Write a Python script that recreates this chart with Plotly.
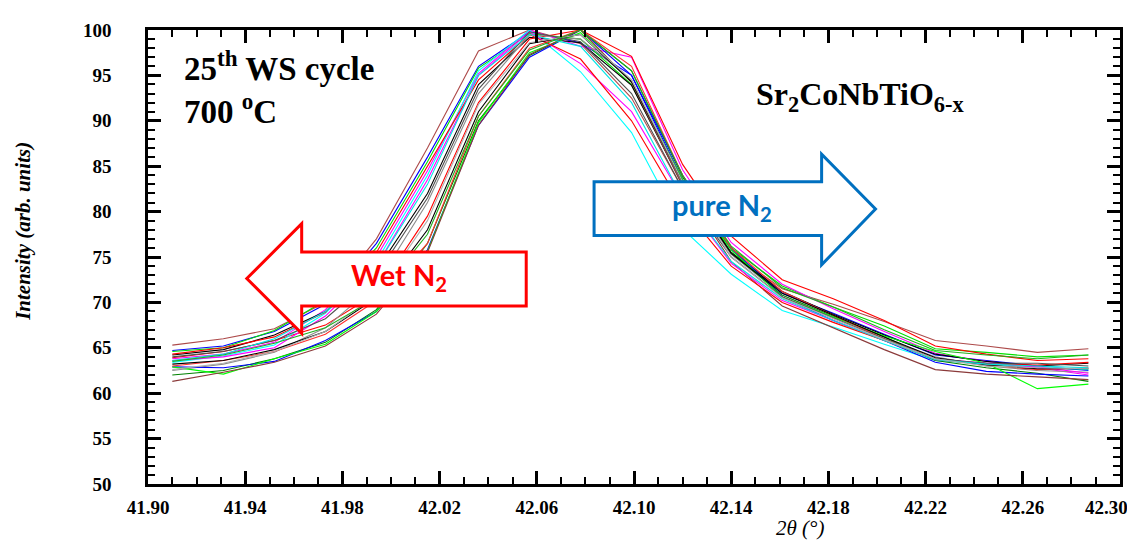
import plotly.graph_objects as go

# ---- data ----
two_theta = [41.910, 41.931, 41.952, 41.973, 41.994, 42.015, 42.036, 42.057, 42.078, 42.099,
             42.120, 42.140, 42.161, 42.182, 42.203, 42.224, 42.245, 42.266, 42.287]

curve_brown_hi = [65.3, 66.0, 67.1, 70.0, 77.0, 87.0, 97.7, 100.0, 98.5, 92.5, 82.5, 75.5, 71.5, 69.8, 67.9, 65.8, 65.2, 64.5, 64.9]
curve_blue_1 = [64.7, 65.2, 66.8, 69.8, 76.5, 86.0, 96.0, 99.8, 98.6, 95.0, 83.5, 75.8, 71.0, 68.8, 66.5, 64.2, 63.6, 63.0, 62.5]
curve_green_1 = [64.6, 65.0, 66.9, 70.2, 76.0, 85.5, 95.8, 99.6, 99.0, 94.0, 83.0, 76.0, 71.8, 69.5, 67.4, 64.9, 64.5, 64.0, 64.2]
curve_magenta_1 = [63.8, 64.3, 65.6, 69.2, 75.0, 84.5, 95.2, 100.0, 98.2, 97.0, 84.6, 76.6, 72.0, 69.3, 66.8, 64.4, 63.5, 62.8, 62.0]
curve_black_1 = [64.2, 64.8, 66.4, 69.0, 73.5, 82.0, 94.0, 99.2, 98.6, 93.9, 83.0, 75.5, 71.2, 68.7, 66.4, 64.3, 63.5, 63.0, 63.3]
curve_red_1 = [63.9, 64.6, 65.8, 67.5, 71.0, 79.5, 92.0, 99.0, 100.0, 97.1, 85.2, 77.3, 72.5, 70.4, 68.0, 65.2, 64.3, 63.6, 63.8]
curve_cyan_1 = [63.4, 64.1, 65.3, 68.8, 74.5, 84.0, 95.5, 100.0, 95.4, 88.7, 78.1, 73.1, 69.1, 67.3, 65.4, 63.6, 63.2, 62.9, 62.6]
curve_gray_1 = [62.5, 63.2, 64.5, 67.2, 72.0, 81.0, 93.0, 99.5, 99.0, 94.5, 83.0, 75.3, 70.8, 68.3, 66.0, 64.0, 63.0, 62.5, 62.3]
curve_dkgreen = [62.0, 62.5, 63.8, 65.6, 69.2, 76.5, 90.0, 97.2, 100.0, 95.5, 83.8, 75.5, 70.8, 68.5, 66.2, 63.6, 62.8, 62.2, 61.3]
curve_blue_2 = [62.9, 62.8, 63.5, 65.8, 69.0, 75.8, 89.5, 97.0, 100.0, 95.0, 84.0, 76.0, 70.6, 68.0, 65.8, 63.4, 62.4, 62.1, 61.9]
curve_green_2 = [62.9, 62.1, 63.8, 65.4, 69.0, 75.6, 89.8, 97.5, 99.7, 94.3, 83.5, 75.8, 70.6, 68.4, 66.3, 64.6, 63.3, 60.5, 61.0]
curve_brown_lo = [61.3, 62.3, 63.4, 65.2, 68.7, 75.5, 89.5, 97.3, 100.0, 94.2, 82.8, 74.5, 69.6, 67.2, 64.8, 62.6, 62.1, 61.8, 61.5]
curve_magenta_2 = [63.6, 64.0, 65.0, 68.5, 74.0, 83.5, 95.0, 99.8, 96.3, 91.0, 81.5, 74.3, 70.2, 68.0, 65.8, 63.8, 63.3, 62.9, 62.2]
curve_red_2 = [63.0, 63.6, 64.6, 66.5, 70.2, 76.5, 90.5, 98.0, 100.0, 96.0, 84.0, 76.0, 71.2, 68.6, 66.0, 63.8, 63.1, 62.6, 62.8]
curve_red_3 = [64.3, 65.0, 66.2, 68.9, 75.5, 85.0, 94.5, 99.5, 96.8, 90.0, 80.5, 74.0, 70.0, 67.8, 65.8, 63.7, 63.2, 63.1, 63.4]
curve_black_2 = [63.2, 63.6, 64.8, 66.8, 70.5, 78.0, 91.0, 98.5, 99.5, 94.3, 83.3, 75.4, 71.0, 68.6, 66.2, 63.9, 63.1, 62.7, 62.7]
curve_dkgray = [64.0, 64.6, 65.8, 68.2, 73.0, 81.5, 93.5, 99.8, 98.7, 93.0, 82.5, 75.0, 70.6, 68.3, 66.0, 63.8, 63.3, 63.3, 63.0]
curve_cyan_2 = [63.6, 64.3, 66.0, 69.0, 74.0, 83.0, 95.0, 99.5, 98.2, 92.0, 81.5, 74.5, 70.4, 68.0, 65.8, 63.7, 63.2, 63.0, 62.8]
curve_ltgray = [62.6, 63.3, 64.6, 66.8, 70.8, 79.0, 91.8, 98.6, 99.5, 94.5, 83.3, 75.0, 70.5, 68.2, 65.9, 63.8, 63.0, 62.8, 62.7]
curve_green_3 = [63.5, 64.2, 65.5, 67.2, 70.5, 77.5, 90.5, 97.8, 100.0, 95.5, 84.0, 76.2, 71.6, 69.5, 67.0, 64.7, 64.2, 63.8, 64.2]

curves = [
    ("#ad4a4a", curve_brown_hi), ("#0000ff", curve_blue_1), ("#00e000", curve_green_1),
    ("#ff00ff", curve_magenta_1), ("#000000", curve_black_1), ("#ff0000", curve_red_1),
    ("#00ffff", curve_cyan_1), ("#8c8c8c", curve_gray_1), ("#008000", curve_dkgreen),
    ("#0000ff", curve_blue_2), ("#00ff00", curve_green_2), ("#8b3a3a", curve_brown_lo),
    ("#ff00ff", curve_magenta_2), ("#ff3030", curve_red_2), ("#ff0000", curve_red_3),
    ("#000000", curve_black_2), ("#505050", curve_dkgray), ("#00e5e5", curve_cyan_2),
    ("#b0b0b0", curve_ltgray), ("#20b020", curve_green_3),
]

x_tickvals = [41.90, 41.94, 41.98, 42.02, 42.06, 42.10, 42.14, 42.18, 42.22, 42.26, 42.30]
x_ticktext = ["41.90", "41.94", "41.98", "42.02", "42.06", "42.10", "42.14", "42.18", "42.22", "42.26", "42.30"]
y_tickvals = [50, 55, 60, 65, 70, 75, 80, 85, 90, 95, 100]
y_ticktext = ["50", "55", "60", "65", "70", "75", "80", "85", "90", "95", "100"]

# ---- layout geometry (page pixels; the page body adds an 8 px offset) ----
OFF = 8
W, H = 1135 - OFF, 540 - OFF
L, R, T, B = 148, 1122, 20, 484


def pp(px, py):
    return (px - L) / (R - L), (B - py) / (B - T)


def path(points):
    s = ""
    for i, (px, py) in enumerate(points):
        x, y = pp(px, py)
        s += ("M" if i == 0 else "L") + f"{x:.5f},{y:.5f} "
    return s + "Z"


fig = go.Figure()
for color, vals in curves:
    fig.add_trace(go.Scatter(x=two_theta, y=vals, mode="lines",
                             line=dict(color=color, width=1.1), showlegend=False,
                             hoverinfo="skip"))

tickfont = dict(family="Liberation Serif", size=19, color="black", weight="bold")
axis_common = dict(showgrid=False, zeroline=False, showline=True, linecolor="black",
                   linewidth=2.5, mirror="allticks", ticks="inside", ticklen=13,
                   tickwidth=2.5, tickcolor="black", tickfont=tickfont)

# the last x label would overflow the page edge, so it is drawn as an annotation shifted left
fig.update_xaxes(range=[41.89999, 42.30001], tickmode="array", tickvals=x_tickvals,
                 ticktext=x_ticktext[:-1] + [""], ticklabelstandoff=4,
                 minor=dict(dtick=0.01, tick0=41.90, ticks="inside", ticklen=7,
                            tickwidth=1.5, tickcolor="black"),
                 **axis_common)
fig.update_yaxes(range=[50, 100.0001], tickmode="array", tickvals=y_tickvals,
                 ticktext=y_ticktext, ticklabelstandoff=30,
                 minor=dict(dtick=1, tick0=50, ticks="inside", ticklen=7,
                            tickwidth=1.5, tickcolor="black"),
                 **axis_common)

shapes = [
    dict(type="path", xref="paper", yref="paper",
         path=path([(247, 274), (302, 218), (302, 247), (527, 247), (527, 302), (302, 302), (302, 330)]),
         line=dict(color="#ff0000", width=3), fillcolor="white", layer="above"),
    dict(type="path", xref="paper", yref="paper",
         path=path([(595, 175), (823, 175), (823, 147), (877, 203), (823, 260), (823, 230), (595, 230)]),
         line=dict(color="#0070c0", width=3), fillcolor="white", layer="above"),
]

annotations = []


def ann(text, px, py, font, xanchor="left", yanchor="middle", textangle=0, align="left"):
    x, y = pp(px, py)
    annotations.append(dict(text=text, x=x, y=y, xref="paper", yref="paper",
                            xanchor=xanchor, yanchor=yanchor, showarrow=False,
                            font=font, textangle=textangle, align=align))


serif_b = dict(family="Liberation Serif", size=33, color="black", weight="bold")
ann("25<sup>th</sup> WS cycle<br>700 <sup>o</sup>C", 182, 79, serif_b)
ann("Sr<sub>2</sub>CoNbTiO<sub>6-x</sub>", 755, 88, dict(family="Liberation Serif", size=32, color="black", weight="bold"))
ann("Wet N<sub>2</sub>", 400, 272, dict(family="Lato", size=29, color="#ff0000", weight="bold"), xanchor="center")
ann("pure N<sub>2</sub>", 723, 200, dict(family="Lato", size=29, color="#0070c0", weight="bold"), xanchor="center")
ann("Intensity (arb. units)", 22, 226,
    dict(family="Liberation Serif", size=21, color="black", weight="bold", style="italic"),
    xanchor="center", textangle=-90)
ann("2θ (°)", 801, 529, dict(family="Liberation Serif", size=21, color="black", style="italic"),
    xanchor="center")
ann(x_ticktext[-1], 1132, 508, tickfont, xanchor="right")

fig.update_layout(width=W, height=H,
                  margin=dict(l=L - OFF, r=W - (R - OFF), t=T - OFF, b=H - (B - OFF)),
                  paper_bgcolor="white", plot_bgcolor="white",
                  shapes=shapes, annotations=annotations, showlegend=False)

fig.write_html("out.html")
